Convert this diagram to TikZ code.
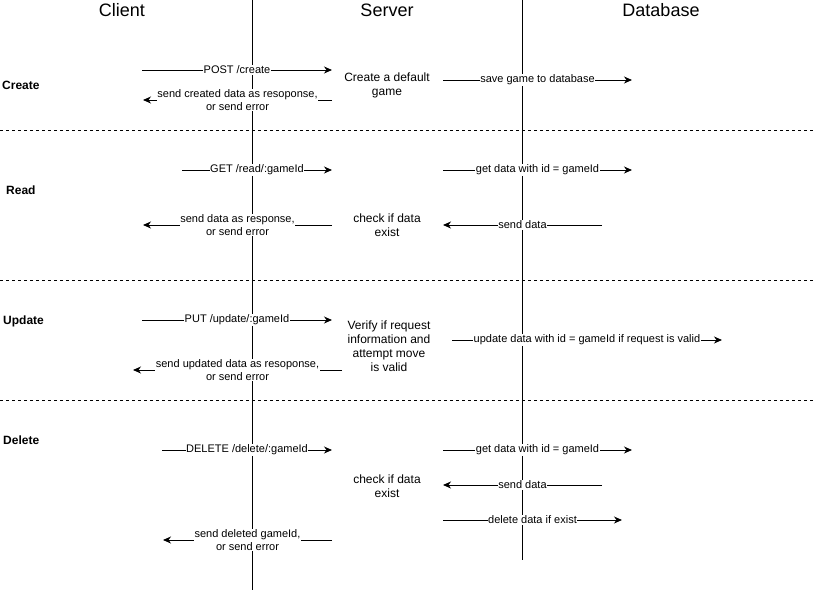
\documentclass[tikz,border=0pt]{standalone}
\usepackage{fontspec}
\setmainfont{Liberation Sans}
\usetikzlibrary{arrows.meta}
\tikzset{
  lifeline/.style={line width=1pt, black},
  divider/.style={line width=1pt, dash pattern=on 3pt off 3pt},
  msg/.style={line width=1pt, -{Stealth[length=8pt,width=7pt,inset=2.5pt]}},
  lbl/.style={midway, fill=white, inner sep=0.5pt, align=center, font=\fontsize{11}{13}\selectfont},
  title/.style={font=\fontsize{18}{20}\selectfont, inner sep=0pt},
  section/.style={font=\fontsize{12}{14}\selectfont\bfseries, inner sep=0pt, anchor=west},
  proc/.style={align=center, font=\fontsize{12}{14}\selectfont, inner sep=0pt}
}
\begin{document}
\begin{tikzpicture}[x=1pt,y=-1pt]
\useasboundingbox (0,0) rectangle (814,592);
% titles
\node[title] (client) at (122,10) {Client};
\node[title] (server) at (387,10) {Server};
\node[title] (db) at (661,10) {Database};
% lifelines
\coordinate (l1t) at (252,0);
\coordinate (l1b) at (252,590);
\coordinate (l2t) at (522,0);
\coordinate (l2b) at (522,560);
\draw[lifeline] (l1t) -- (l1b);
\draw[lifeline] (l2t) -- (l2b);
% dividers
\coordinate (d1a) at (0,130); \coordinate (d1b) at (814,130);
\coordinate (d2a) at (0,280); \coordinate (d2b) at (814,280);
\coordinate (d3a) at (0,400); \coordinate (d3b) at (814,400);
\draw[divider] (d1a) -- (d1b);
\draw[divider] (d2a) -- (d2b);
\draw[divider] (d3a) -- (d3b);
% section labels
\node[section] (create) at (2,85) {Create};
\node[section] (read) at (6,190) {Read};
\node[section] (update) at (3,321) {Update};
\node[section] (delete) at (3,440) {Delete};
% process texts
\node[proc] (p1) at (387,85) {Create a default\\game};
\node[proc] (p2) at (387,225) {check if data\\exist};
\node[proc] (p3) at (389,346) {Verify if request\\information and\\attempt move\\is valid};
\node[proc] (p4) at (387,486) {check if data\\exist};
% Create
\coordinate (c1a) at (142,70); \coordinate (c1b) at (332,70);
\draw[msg] (c1a) -- (c1b) node[lbl] {POST /create};
\coordinate (c2a) at (332,100); \coordinate (c2b) at (143,100);
\draw[msg] (c2a) -- (c2b) node[lbl] {send created data as resoponse,\\or send error};
\coordinate (c3a) at (443,80); \coordinate (c3b) at (632,80);
\draw[msg] (c3a) -- (c3b) node[lbl] {save game to database};
% Read
\coordinate (r1a) at (182,170); \coordinate (r1b) at (332,170);
\draw[msg] (r1a) -- (r1b) node[lbl] {GET /read/:gameId};
\coordinate (r2a) at (332,225); \coordinate (r2b) at (143,225);
\draw[msg] (r2a) -- (r2b) node[lbl] {send data as response,\\or send error};
\coordinate (r3a) at (443,170); \coordinate (r3b) at (632,170);
\draw[msg] (r3a) -- (r3b) node[lbl] {get data with id = gameId};
\coordinate (r4a) at (602,225); \coordinate (r4b) at (443,225);
\draw[msg] (r4a) -- (r4b) node[lbl] {send data};
% Update
\coordinate (u1a) at (142,320); \coordinate (u1b) at (332,320);
\draw[msg] (u1a) -- (u1b) node[lbl] {PUT /update/:gameId};
\coordinate (u2a) at (342,370); \coordinate (u2b) at (133,370);
\draw[msg] (u2a) -- (u2b) node[lbl] {send updated data as resoponse,\\or send error};
\coordinate (u3a) at (452,340); \coordinate (u3b) at (722,340);
\draw[msg] (u3a) -- (u3b) node[lbl] {update data with id = gameId if request is valid};
% Delete
\coordinate (x1a) at (162,450); \coordinate (x1b) at (332,450);
\draw[msg] (x1a) -- (x1b) node[lbl] {DELETE /delete/:gameId};
\coordinate (x2a) at (332,540); \coordinate (x2b) at (163,540);
\draw[msg] (x2a) -- (x2b) node[lbl] {send deleted gameId,\\or send error};
\coordinate (x3a) at (443,450); \coordinate (x3b) at (632,450);
\draw[msg] (x3a) -- (x3b) node[lbl] {get data with id = gameId};
\coordinate (x4a) at (602,485); \coordinate (x4b) at (443,485);
\draw[msg] (x4a) -- (x4b) node[lbl] {send data};
\coordinate (x5a) at (443,520); \coordinate (x5b) at (622,520);
\draw[msg] (x5a) -- (x5b) node[lbl] {delete data if exist};
\end{tikzpicture}
\end{document}
